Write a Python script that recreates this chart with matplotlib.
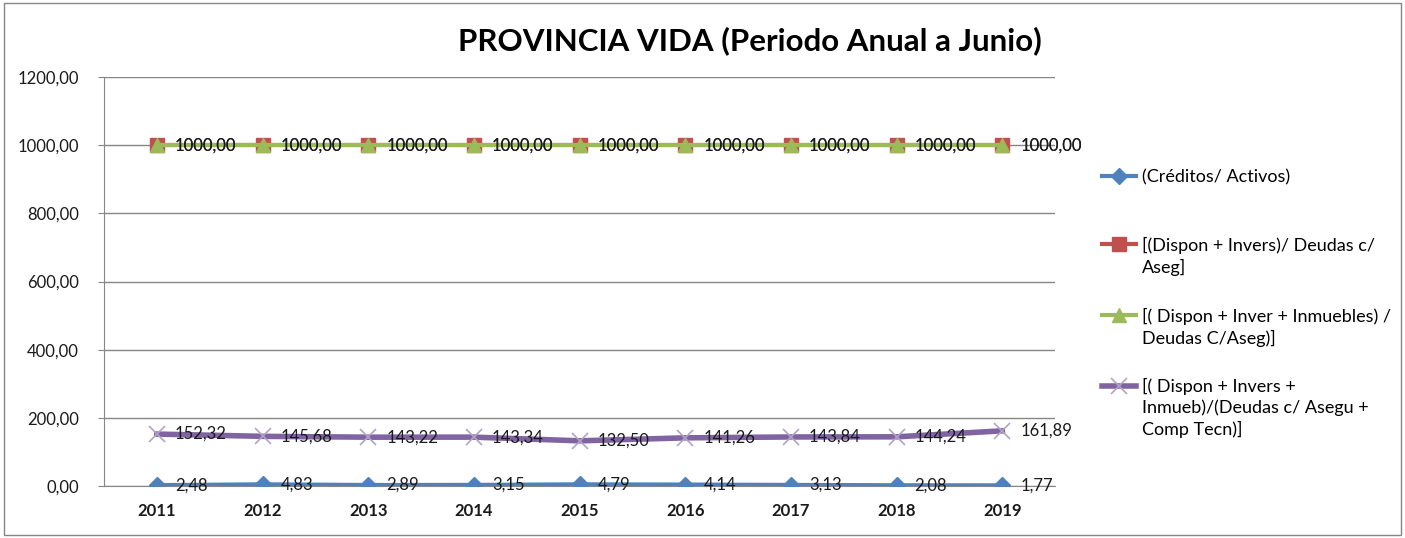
import numpy as np
import matplotlib.pyplot as plt
from matplotlib.patches import Rectangle

plt.rcParams['font.family'] = ['Lato', 'DejaVu Sans']

# Datos
anios = ['2011', '2012', '2013', '2014', '2015', '2016', '2017', '2018', '2019']
creditos_activos = [2.48, 4.83, 2.89, 3.15, 4.79, 4.14, 3.13, 2.08, 1.77]
dispon_invers = [1000.00] * 9
dispon_inver_inmuebles = [1000.00] * 9
dispon_comp_tecn = [152.32, 145.68, 143.22, 143.34, 132.50, 141.26, 143.84, 144.24, 161.89]

etiquetas = [
    '(Créditos/ Activos)\n',
    '[(Dispon + Invers)/ Deudas c/\nAseg]',
    '[( Dispon + Inver + Inmuebles) /\nDeudas C/Aseg)]',
    '[( Dispon + Invers +\nInmueb)/(Deudas c/ Asegu +\nComp Tecn)]',
]
colores = ['#4F81BD', '#C0504D', '#9BBB59', '#8064A2']


def fmt(v):
    return f'{v:.2f}'.replace('.', ',')


fig = plt.figure(figsize=(14.05, 5.38), dpi=100)
ax = fig.add_axes([0.074, 0.0967, 0.677, 0.76])
x = np.arange(len(anios))

series = [creditos_activos, dispon_invers, dispon_inver_inmuebles, dispon_comp_tecn]
estilos = [
    dict(marker='D', ms=8, lw=3, mec='#4F81BD'),
    dict(marker='s', ms=10, lw=3, mec='#C0504D'),
    dict(marker='^', ms=10, lw=3, mec='#9BBB59'),
    dict(marker='x', ms=11, lw=4, mew=1.2, mec='#B3A2C7'),
]
lineas = []
for i, (vals, est) in enumerate(zip(series, estilos)):
    ln, = ax.plot(x, vals, color=colores[i], label=etiquetas[i], zorder=3 + i, **est)
    lineas.append(ln)
    for xi, v in zip(x, vals):
        ax.annotate(fmt(v), (xi, v), xytext=(13, 0), textcoords='offset points',
                    ha='left', va='center', fontsize=12, color='#1a1a1a', zorder=10)

ax.set_xlim(-0.5, 8.5)
ax.set_ylim(0, 1200)
ax.set_yticks(np.arange(0, 1201, 200))
ax.set_yticklabels([fmt(v) for v in np.arange(0, 1201, 200)], fontsize=12)
ax.set_xticks(x)
ax.set_xticklabels(anios, fontsize=12, fontweight='bold')
ax.tick_params(axis='x', length=0, pad=12, colors='#1a1a1a')
ax.tick_params(axis='y', length=4, color='#868686', pad=14, colors='#1a1a1a')
ax.grid(axis='y', color='#868686', lw=1)
ax.set_axisbelow(True)
for s in ['top', 'right']:
    ax.spines[s].set_visible(False)
for s in ['left', 'bottom']:
    ax.spines[s].set_color('#868686')

fig.text(0.534, 0.925, 'PROVINCIA VIDA (Periodo Anual a Junio)', ha='center', va='center',
         fontsize=22.5, fontweight='bold', color='#000000')

leg = fig.legend(handles=lineas, loc='upper left', bbox_to_anchor=(0.778, 0.703),
                 frameon=False, fontsize=13, labelspacing=1.75, handlelength=1.9,
                 handletextpad=0.3, handleheight=1.1, borderpad=0)
for t in leg.get_texts():
    t.set_linespacing(1.35)
for col in leg._legend_handle_box.get_children():
    for fila in col.get_children():
        fila.align = 'top'

fig.add_artist(Rectangle((0.003, 0.005), 0.994, 0.99, transform=fig.transFigure,
                         fill=False, edgecolor='#868686', lw=1))

fig.savefig('out.png', dpi=100)
